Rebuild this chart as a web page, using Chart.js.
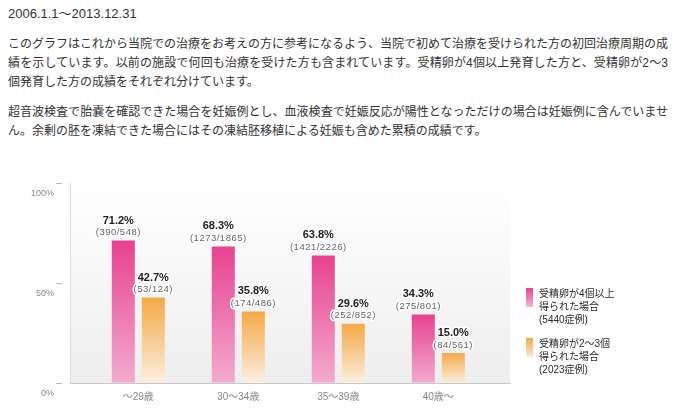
<!DOCTYPE html>
<html><head><meta charset="utf-8">
<script src="https://cdn.jsdelivr.net/npm/chart.js@4.4.1/dist/chart.umd.min.js"></script>
<style>
html,body{margin:0;padding:0;background:#fff;}
body{width:673px;height:411px;position:relative;overflow:hidden;font-family:"Liberation Sans","Noto Sans CJK JP",sans-serif;color:#333;}
#date{position:absolute;left:8px;top:5px;font-size:13px;line-height:18px;}
.p{position:absolute;left:8px;width:660px;font-size:12px;line-height:19px;}
.p span{display:block;white-space:nowrap;}
.p span.j{text-align:justify;text-align-last:justify;}
#wrap{position:absolute;left:0;top:0;width:673px;height:411px;}
.lg{position:absolute;left:526px;font-size:10px;line-height:13px;color:#2a2a2a;}
.sw{position:absolute;left:0;top:1px;width:7px;height:19px;}
.lt{position:absolute;left:13px;top:0;white-space:nowrap;}
</style>
</head><body>
<div id="date">2006.1.1〜2013.12.31</div>
<div class="p" style="top:35px">
<span class="j">このグラフはこれから当院での治療をお考えの方に参考になるよう、当院で初めて治療を受けられた方の初回治療周期の成</span>
<span class="j">績を示しています。以前の施設で何回も治療を受けた方も含まれています。受精卵が4個以上発育した方と、受精卵が2〜3</span>
<span>個発育した方の成績をそれぞれ分けています。</span>
</div>
<div class="p" style="top:103px">
<span class="j">超音波検査で胎嚢を確認できた場合を妊娠例とし、血液検査で妊娠反応が陽性となっただけの場合は妊娠例に含んでいませ</span>
<span>ん。余剰の胚を凍結できた場合にはその凍結胚移植による妊娠も含めた累積の成績です。</span>
</div>
<div id="wrap"><canvas id="c" width="673" height="411"></canvas></div>
<div class="lg" style="top:287px"><div class="sw" style="background:linear-gradient(#e8428f,#f5b5d4)"></div>
<div class="lt">受精卵が4個以上<br>得られた場合<br>(5440症例)</div></div>
<div class="lg" style="top:337px"><div class="sw" style="background:linear-gradient(#f5a946,#fdebd2)"></div>
<div class="lt">受精卵が2〜3個<br>得られた場合<br>(2023症例)</div></div>
<script>
const categories = ['〜29歳', '30〜34歳', '35〜39歳', '40歳〜'];
const rate4plus = [71.2, 68.3, 63.8, 34.3];
const count4plus = ['(390/548)', '(1273/1865)', '(1421/2226)', '(275/801)'];
const rate2to3 = [42.7, 35.8, 29.6, 15.0];
const count2to3 = ['(53/124)', '(174/486)', '(252/852)', '(84/561)'];
const yTicks = [0, 50, 100];

const FONT = '"Liberation Sans","Noto Sans CJK JP",sans-serif';

function barGradient(top, bottom) {
  return function (ctx) {
    const chart = ctx.chart;
    if (!chart.chartArea || ctx.type !== 'data') return top;
    const ys = chart.scales.y;
    const yTop = ys.getPixelForValue(ctx.parsed.y);
    const yBot = ys.getPixelForValue(0);
    const g = chart.ctx.createLinearGradient(0, yTop, 0, yBot);
    g.addColorStop(0, top);
    g.addColorStop(1, bottom);
    return g;
  };
}

const bgPlugin = {
  id: 'bg',
  beforeDraw(chart) {
    const {ctx, chartArea: a} = chart;
    const g = ctx.createLinearGradient(0, a.top, 0, a.bottom);
    g.addColorStop(0, '#ffffff');
    g.addColorStop(1, '#eeeeee');
    ctx.save();
    ctx.fillStyle = g;
    ctx.fillRect(a.left, a.top + 6, a.right - a.left, a.bottom - a.top - 6);
    ctx.restore();
  }
};

const labelPlugin = {
  id: 'vals',
  afterDatasetsDraw(chart) {
    const ctx = chart.ctx;
    const sets = [[rate4plus, count4plus, -5], [rate2to3, count2to3, 0]];
    ctx.save();
    ctx.textAlign = 'center';
    ctx.textBaseline = 'middle';
    ctx.lineJoin = 'round';
    sets.forEach(([rates, counts, dx], di) => {
      const meta = chart.getDatasetMeta(di);
      meta.data.forEach((bar, i) => {
        const x = bar.x + dx;
        ctx.letterSpacing = '0px';
        ctx.font = 'bold 11px ' + FONT;
        ctx.strokeStyle = '#fff';
        ctx.lineWidth = 3;
        const t = rates[i].toFixed(1) + '%';
        ctx.strokeText(t, x, bar.y - 20);
        ctx.fillStyle = '#222';
        ctx.fillText(t, x, bar.y - 20);
        ctx.font = '9.5px ' + FONT;
        ctx.letterSpacing = '0.5px';
        ctx.strokeText(counts[i], x, bar.y - 8);
        ctx.fillStyle = '#666';
        ctx.fillText(counts[i], x, bar.y - 8);
      });
    });
    ctx.restore();
  }
};

new Chart(document.getElementById('c'), {
  type: 'bar',
  data: {
    datasets: [
      {
        label: '受精卵が4個以上得られた場合',
        data: rate4plus.map((v, i) => ({x: i, y: v})),
        backgroundColor: barGradient('#e8428f', '#f3abcf'),
        barPercentage: 0.767,
        categoryPercentage: 0.6
      },
      {
        label: '受精卵が2〜3個得られた場合',
        data: rate2to3.map((v, i) => ({x: i, y: v})),
        backgroundColor: barGradient('#f5a946', '#fbefdf'),
        barPercentage: 0.767,
        categoryPercentage: 0.6
      }
    ]
  },
  options: {
    responsive: false,
    animation: false,
    events: [],
    devicePixelRatio: 1,
    layout: {padding: {top: 183, right: 163, left: 0, bottom: 0}},
    plugins: {legend: {display: false}, tooltip: {enabled: false}},
    scales: {
      x: {
        type: 'linear',
        min: -0.683,
        max: 3.717,
        offset: false,
        grid: {display: false},
        border: {display: true, color: '#c8c8c8'},
        afterBuildTicks: (s) => { s.ticks = categories.map((c, i) => ({value: i})); },
        afterFit: (s) => { s.height = 28; },
        ticks: {
          callback: (v) => categories[v] ?? '',
          color: '#888',
          font: {size: 10, family: FONT},
          padding: 0,
          maxRotation: 0,
          autoSkip: false
        }
      },
      y: {
        min: 0,
        max: 100,
        afterBuildTicks: (s) => { s.ticks = yTicks.map(v => ({value: v})); },
        afterFit: (s) => { s.width = 70; },
        grid: {drawOnChartArea: false, tickLength: 14, tickBorderDash: [6, 100], tickColor: '#bbb'},
        border: {color: '#dcdcdc'},
        ticks: {
          callback: (v) => v + '%',
          color: '#888',
          font: {size: 9, family: FONT},
          padding: 2,
          labelOffset: 11
        }
      }
    }
  },
  plugins: [bgPlugin, labelPlugin]
});
</script>
</body></html>
